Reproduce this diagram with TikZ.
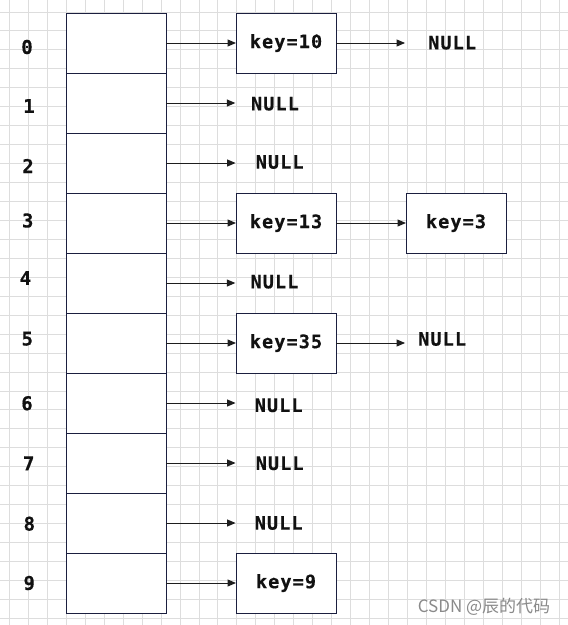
\documentclass[tikz,border=0pt]{standalone}
\usepackage{fontspec}
\usetikzlibrary{arrows.meta}
\newfontfamily\lblfont{DejaVu Sans Mono}[LetterSpace=6,BoldFeatures={FakeBold=0.5}]
\newfontfamily\idxfont{DejaVu Sans Mono}[BoldFeatures={FakeBold=0.4}]
\newfontfamily\cjkfont{Noto Sans CJK SC}
\definecolor{gridc}{HTML}{DDDDDD}
\definecolor{boxc}{HTML}{1B1F3F}
\definecolor{arrc}{HTML}{1E1E1E}
\definecolor{txtc}{HTML}{111111}
\definecolor{wmc}{HTML}{8A8A8A}
\tikzset{
  gridline/.style={draw=gridc, line width=1pt},
  cellbox/.style={draw=boxc, line width=0.9pt, fill=white, minimum width=100pt, minimum height=60pt, inner sep=0pt, outer sep=0pt},
  keybox/.style={cellbox, font=\lblfont\bfseries\fontsize{18.5}{18.5}\selectfont, text=txtc},
  nulltxt/.style={inner sep=0pt, font=\lblfont\bfseries\fontsize{18.5}{18.5}\selectfont, text=txtc},
  idxtxt/.style={inner sep=0pt, font=\idxfont\bfseries\fontsize{19}{19}\selectfont, text=txtc},
  arr/.style={draw=arrc, line width=1pt, -{Triangle[length=8.5pt,width=7pt]}},
  wm/.style={inner sep=0pt, font=\cjkfont\fontsize{17}{17}\selectfont, text=wmc}
}
\begin{document}
\begin{tikzpicture}[x=1pt,y=-1pt]
\useasboundingbox (0,0) rectangle (568,625);
\fill[white] (0,0) rectangle (568,625);
% grid
\foreach \i in {0,...,29} \draw[gridline] ({9.5+18.95*\i},0) -- ({9.5+18.95*\i},625);
\foreach \j in {0,...,32} \draw[gridline] (0,{12+18.95*\j}) -- (568,{12+18.95*\j});
% table cells
\foreach \i in {0,...,9} \node[cellbox] (c\i) at (116,{43+60*\i}) {};
% index labels
\node[idxtxt] (i0) at (27,47) {0};
\node[idxtxt] (i1) at (29,106) {1};
\node[idxtxt] (i2) at (28,166) {2};
\node[idxtxt] (i3) at (27.7,220.5) {3};
\node[idxtxt] (i4) at (25.5,278) {4};
\node[idxtxt] (i5) at (27.3,338.7) {5};
\node[idxtxt] (i6) at (27,403.3) {6};
\node[idxtxt] (i7) at (28.7,463.3) {7};
\node[idxtxt] (i8) at (29.3,523.7) {8};
\node[idxtxt] (i9) at (29.2,583) {9};
% key boxes
\node[keybox] (k0) at (286,43) {key=10};
\node[keybox] (k3) at (286,223) {key=13};
\node[keybox] (k3b) at (456,223) {key=3};
\node[keybox] (k5) at (286,343) {key=35};
\node[keybox] (k9) at (286,583) {key=9};
% NULL labels
\node[nulltxt] (n0) at (452.2,42.7) {NULL};
\node[nulltxt] (n1) at (275,103.7) {NULL};
\node[nulltxt] (n2) at (279.7,162) {NULL};
\node[nulltxt] (n4) at (274.5,281.7) {NULL};
\node[nulltxt] (n5) at (442.2,339) {NULL};
\node[nulltxt] (n6) at (278.7,405.3) {NULL};
\node[nulltxt] (n7) at (279.7,463.3) {NULL};
\node[nulltxt] (n8) at (278.7,523) {NULL};
% connectors
\draw[arr] (c0.east) -- (k0.west);
\draw[arr] (c3.east) -- (k3.west);
\draw[arr] (c5.east) -- (k5.west);
\draw[arr] (c9.east) -- (k9.west);
\draw[arr] (k3.east) -- (k3b.west);
\draw[arr, shorten >=23pt] (k0.east) -- (k0.east -| n0.west);
\draw[arr, shorten >=13pt] (k5.east) -- (k5.east -| n5.west);
\draw[arr, shorten >=15.5pt] (c1.east) -- (c1.east -| n1.west);
\draw[arr, shorten >=20pt] (c2.east) -- (c2.east -| n2.west);
\draw[arr, shorten >=15pt] (c4.east) -- (c4.east -| n4.west);
\draw[arr, shorten >=19pt] (c6.east) -- (c6.east -| n6.west);
\draw[arr, shorten >=20pt] (c7.east) -- (c7.east -| n7.west);
\draw[arr, shorten >=19pt] (c8.east) -- (c8.east -| n8.west);
% watermark
\node[wm] (wmk) at (484,607) {CSDN @辰的代码};
\end{tikzpicture}
\end{document}
